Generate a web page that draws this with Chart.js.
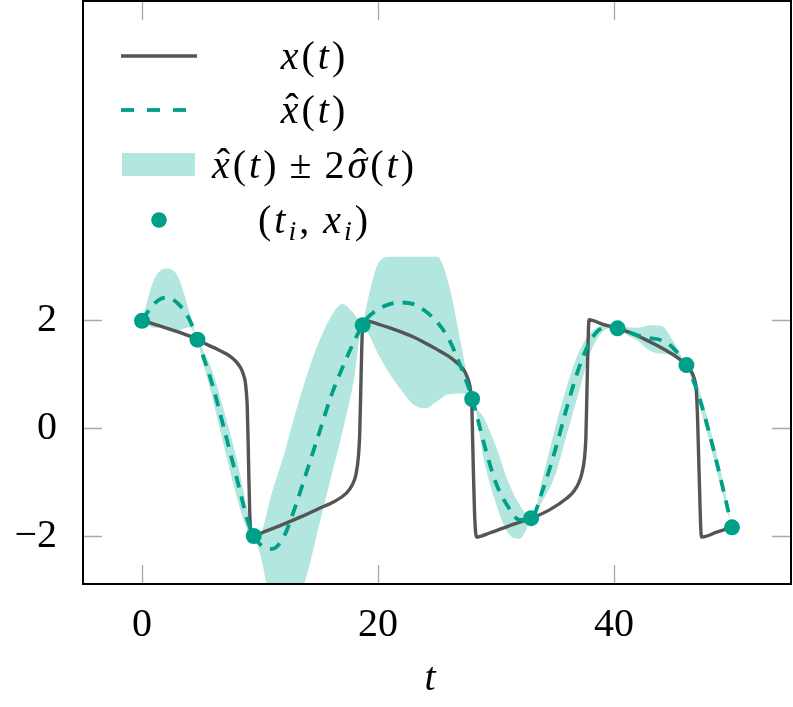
<!DOCTYPE html>
<html>
<head>
<meta charset="utf-8">
<script src="https://cdn.jsdelivr.net/npm/chart.js@4.4.1/dist/chart.umd.min.js"></script>
<style>
  body { margin: 0; background: #fff; }
  canvas { display: block; }
</style>
</head>
<body>
<canvas id="grafico" width="793" height="707"></canvas>
<script>
// true signal x(t)
const tTrue = [0, 1, 2, 3, 4, 4.7, 5.5, 6.5, 7.2, 7.7, 8.1, 8.4, 8.6, 8.75, 8.85, 8.92, 9.0, 9.06, 9.13, 9.2, 9.28,
  9.5, 10.5, 12, 13.5, 15, 16.3, 17.3, 17.8, 18.15, 18.35, 18.45, 18.55, 18.62, 18.68, 18.74,
  20, 21, 22, 23, 24, 25, 26, 26.7, 27.2, 27.5, 27.7, 27.85, 27.95, 28.02, 28.1, 28.18, 28.26, 28.34,
  29.5, 31, 33, 34.5, 36, 36.6, 37.0, 37.3, 37.5, 37.62, 37.7, 37.77, 37.83, 37.88,
  39, 40.3, 41.5, 42.5, 43.5, 44.5, 45.5, 46.1, 46.5, 46.8, 46.97, 47.08, 47.17, 47.26, 47.34, 47.42,
  48.7, 50];
const xTrue = [2.00, 1.93, 1.86, 1.79, 1.71, 1.64, 1.55, 1.45, 1.37, 1.29, 1.20, 1.10, 0.99, 0.86, 0.65, 0.39, -0.30, -0.95, -1.55, -1.90, -2.02,
  -2.00, -1.91, -1.78, -1.64, -1.49, -1.36, -1.21, -1.06, -0.84, -0.50, -0.10, 0.80, 1.45, 1.85, 2.00,
  1.93, 1.86, 1.78, 1.69, 1.58, 1.46, 1.33, 1.21, 1.10, 0.98, 0.86, 0.70, 0.45, -0.20, -0.95, -1.55, -1.90, -2.02,
  -1.94, -1.82, -1.67, -1.52, -1.30, -1.17, -1.02, -0.82, -0.55, -0.15, 0.60, 1.30, 1.80, 2.01,
  1.93, 1.85, 1.76, 1.66, 1.55, 1.43, 1.29, 1.17, 1.07, 0.92, 0.72, 0.20, -0.50, -1.20, -1.80, -2.02,
  -1.93, -1.84];

// GP estimate: mean and the +/- 2 sigma band
const tGrid = [0, 1, 2, 3, 4, 4.7, 5, 6, 7, 8, 9, 9.47, 10, 11, 12, 13, 14, 15, 16, 17, 18, 18.7,
  19, 20, 21, 22, 23, 24, 25, 26, 27, 28, 29, 30, 31, 32, 33, 34, 35, 36, 37, 38, 39, 40, 40.3,
  41, 42, 43, 44, 45, 46.1, 47, 48, 49, 50];
const xMean = [2.00, 2.30, 2.42, 2.32, 2.02, 1.64, 1.45, 0.78, -0.05, -0.90, -1.75, -2.00, -2.15, -2.24, -2.02, -1.45, -0.78, -0.10, 0.58, 1.13, 1.62, 1.92,
  2.02, 2.20, 2.30, 2.33, 2.30, 2.17, 1.97, 1.65, 1.15, 0.54, -0.30, -1.02, -1.45, -1.70, -1.67, -1.12, -0.42, 0.38, 1.10, 1.62, 1.86, 1.89, 1.85,
  1.80, 1.72, 1.67, 1.63, 1.49, 1.17, 0.72, -0.03, -0.90, -1.84];
const xUpper = [2.00, 2.74, 2.96, 2.83, 2.17, 1.64, 1.53, 1.03, 0.28, -0.55, -1.58, -2.00, -1.97, -1.20, -0.51, 0.28, 1.00, 1.60, 2.06, 2.30, 2.11, 1.92,
  2.24, 3.05, 3.18, 3.18, 3.18, 3.18, 3.18, 2.67, 1.60, 0.54, 0.18, -0.34, -0.97, -1.42, -1.67, -0.88, 0.00, 0.77, 1.40, 1.77, 1.90, 1.92, 1.85,
  1.87, 1.86, 1.91, 1.90, 1.62, 1.17, 0.84, 0.12, -0.75, -1.84];
const xLower = [2.00, 1.86, 1.88, 1.81, 1.87, 1.64, 1.37, 0.53, -0.38, -1.25, -1.92, -2.00, -2.33, -3.28, -3.53, -3.30, -2.70, -1.81, -0.93, -0.06, 0.95, 1.92,
  1.83, 1.38, 1.00, 0.70, 0.44, 0.37, 0.50, 0.63, 0.64, 0.54, -0.62, -1.40, -1.94, -2.05, -1.67, -1.33, -0.88, -0.12, 0.65, 1.40, 1.78, 1.86, 1.85,
  1.74, 1.62, 1.44, 1.38, 1.36, 1.17, 0.60, -0.18, -1.05, -1.84];

// observations (t_i, x_i)
const tObs = [0, 4.7, 9.47, 18.7, 27.98, 32.98, 40.3, 46.14, 50];
const xObs = [1.99, 1.64, -2.00, 1.91, 0.54, -1.67, 1.85, 1.17, -1.84];

const xTicks = [0, 20, 40];
const yTicks = [-2, 0, 2];

const gris = '#555555';
const verde = '#00a088';
const banda = '#b3e6de';
const serif = '"Liberation Serif", "Times New Roman", serif';

function pts(xs, ys) {
  return xs.map((t, i) => ({x: t, y: ys[i]}));
}

// writes a small math-like label, centred on cx
function pintarMath(ctx, partes, cx, base, size) {
  const gap = 3;
  const fuente = k => (k === 'r' ? '' : 'italic ') + (k === 's' ? Math.round(size * 0.7) : size) + 'px ' + serif;
  let w = 0;
  partes.forEach(([s, k]) => { ctx.font = fuente(k); w += ctx.measureText(s).width + gap; });
  w -= gap;
  let x = cx - w / 2;
  ctx.fillStyle = '#000';
  ctx.textAlign = 'left';
  ctx.textBaseline = 'alphabetic';
  partes.forEach(([s, k]) => {
    ctx.font = fuente(k);
    const y = k === 's' ? base + size * 0.18 : base;
    const sw = ctx.measureText(s).width;
    ctx.fillText(s, x, y);
    if (k === 'h') {
      ctx.font = size + 'px ' + serif;
      const hw = ctx.measureText('ˆ').width;
      ctx.fillText('ˆ', x + sw / 2 - hw / 2 + size * 0.06, base - size * 0.04);
    }
    x += sw + gap;
  });
}

const sinPadding = s => {
  s.paddingTop = 0; s.paddingBottom = 0; s.paddingLeft = 0; s.paddingRight = 0;
};

const marco = {
  id: 'marco',
  beforeDatasetsDraw(chart) {
    const {ctx, chartArea: a, scales} = chart;
    ctx.save();
    ctx.strokeStyle = '#a8a8a8';
    ctx.lineWidth = 1.3;
    ctx.beginPath();
    xTicks.forEach(v => {
      const px = Math.round(scales.x.getPixelForValue(v)) + 0.5;
      ctx.moveTo(px, a.bottom); ctx.lineTo(px, a.bottom - 19);
      ctx.moveTo(px, a.top); ctx.lineTo(px, a.top + 19);
    });
    yTicks.forEach(v => {
      const py = Math.round(scales.y.getPixelForValue(v)) + 0.5;
      ctx.moveTo(a.left, py); ctx.lineTo(a.left + 19, py);
      ctx.moveTo(a.right, py); ctx.lineTo(a.right - 19, py);
    });
    ctx.stroke();
    ctx.restore();
  },
  afterDraw(chart) {
    const {ctx, chartArea: a} = chart;
    ctx.save();
    ctx.strokeStyle = '#000';
    ctx.lineWidth = 2;
    ctx.strokeRect(a.left, a.top, a.right - a.left, a.bottom - a.top);

    // legend
    ctx.lineCap = 'butt';
    ctx.strokeStyle = gris;
    ctx.lineWidth = 3.4;
    ctx.beginPath(); ctx.moveTo(121, 56); ctx.lineTo(197, 56); ctx.stroke();
    ctx.strokeStyle = verde;
    ctx.lineWidth = 3.8;
    ctx.setLineDash([13, 13]);
    ctx.beginPath(); ctx.moveTo(121, 110); ctx.lineTo(188, 110); ctx.stroke();
    ctx.setLineDash([]);
    ctx.fillStyle = banda;
    ctx.fillRect(122, 153, 73, 23);
    ctx.fillStyle = verde;
    ctx.beginPath(); ctx.arc(159, 220, 7.8, 0, Math.PI * 2); ctx.fill();

    const cx = 313, fs = 40;
    pintarMath(ctx, [['x', 'i'], ['(', 'r'], ['t', 'i'], [')', 'r']], cx, 69, fs);
    pintarMath(ctx, [['x', 'h'], ['(', 'r'], ['t', 'i'], [')', 'r']], cx, 123, fs);
    pintarMath(ctx, [['x', 'h'], ['(', 'r'], ['t', 'i'], [')', 'r'], [' ± ', 'r'], ['2', 'r'], ['σ', 'h'], ['(', 'r'], ['t', 'i'], [')', 'r']], cx, 178, fs);
    pintarMath(ctx, [['(', 'r'], ['t', 'i'], ['i', 's'], [',', 'r'], ['\u2009', 'r'], ['x', 'i'], ['i', 's'], [')', 'r']], cx, 233, fs);

    // axis title
    ctx.font = 'italic 40px ' + serif;
    ctx.fillStyle = '#000';
    ctx.textAlign = 'center';
    ctx.fillText('t', 430, 690);
    ctx.restore();
  }
};

const tickFont = {family: serif, size: 40};

new Chart(document.getElementById('grafico'), {
  type: 'line',
  data: {
    datasets: [
      {
        label: '(t_i, x_i)',
        data: pts(tObs, xObs),
        showLine: false,
        pointRadius: 8,
        pointBackgroundColor: verde,
        pointBorderWidth: 0
      },
      {
        label: 'x^(t)',
        data: pts(tGrid, xMean),
        borderColor: verde,
        borderWidth: 3.8,
        borderDash: [12, 9],
        pointRadius: 0,
        cubicInterpolationMode: 'monotone',
        fill: false
      },
      {
        label: 'x(t)',
        data: pts(tTrue, xTrue),
        borderColor: gris,
        borderWidth: 3.4,
        pointRadius: 0,
        cubicInterpolationMode: 'monotone',
        fill: false
      },
      {
        label: 'upper',
        data: pts(tGrid, xUpper),
        borderWidth: 0,
        borderColor: 'rgba(0,0,0,0)',
        backgroundColor: banda,
        pointRadius: 0,
        cubicInterpolationMode: 'monotone',
        fill: '+1'
      },
      {
        label: 'lower',
        data: pts(tGrid, xLower),
        borderWidth: 0,
        borderColor: 'rgba(0,0,0,0)',
        pointRadius: 0,
        cubicInterpolationMode: 'monotone',
        fill: false
      }
    ]
  },
  options: {
    responsive: false,
    animation: false,
    devicePixelRatio: 1,
    layout: {autoPadding: false, padding: {left: 1, right: 2, top: 1, bottom: 0}},
    plugins: {
      legend: {display: false},
      tooltip: {enabled: false},
      filler: {propagate: false, drawTime: 'beforeDatasetsDraw'}
    },
    scales: {
      x: {
        type: 'linear',
        min: -5,
        max: 55,
        grid: {display: false},
        border: {display: false},
        afterBuildTicks: s => { s.ticks = xTicks.map(v => ({value: v})); },
        afterFit: s => { s.height = 123; sinPadding(s); },
        ticks: {font: tickFont, color: '#000', padding: 9, maxRotation: 0, autoSkip: false}
      },
      y: {
        type: 'linear',
        min: -2.89,
        max: 7.92,
        grid: {display: false},
        border: {display: false},
        afterBuildTicks: s => { s.ticks = yTicks.map(v => ({value: v})); },
        afterFit: s => { s.width = 82; sinPadding(s); },
        ticks: {
          font: tickFont,
          color: '#000',
          padding: 18,
          autoSkip: false,
          callback: v => v < 0 ? '\u2212' + Math.abs(v) : String(v)
        }
      }
    }
  },
  plugins: [marco]
});
</script>
</body>
</html>
